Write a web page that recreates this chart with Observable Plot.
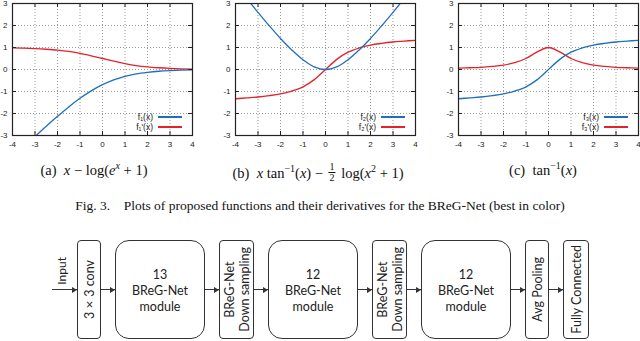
<!DOCTYPE html>
<html><head><meta charset="utf-8">
<script src="https://cdn.jsdelivr.net/npm/d3@7"></script>
<script src="https://cdn.jsdelivr.net/npm/@observablehq/plot@0.6"></script>
<style>
body{margin:0;width:640px;height:341px;overflow:hidden;background:#fff;position:relative;font-family:"Liberation Serif",serif;color:#111;}
.panel{position:absolute;top:0;width:200px;height:152px;}
.legend{position:absolute;right:18px;font:8.5px "Liberation Sans",sans-serif;color:#222;}
.legend .row{display:flex;align-items:center;justify-content:flex-end;height:10px;}
.legend .sw{width:24px;height:0;border-top:2px solid;margin-left:5px;}
.cap{position:absolute;top:162px;font-size:14.5px;text-align:center;white-space:nowrap;}
.cap i{font-style:italic;}
.cap sup{font-size:10px;vertical-align:6px;line-height:0;}
.frac{display:inline-block;vertical-align:-3px;text-align:center;font-size:10px;line-height:10px;margin:0 2px;}
.frac span{display:block;}
.frac span:first-child{border-bottom:0.8px solid #111;padding:0 1px;}
#fig{position:absolute;top:198px;left:0;width:640px;text-align:center;font-size:13.5px;white-space:nowrap;}
#diagram{position:absolute;top:240px;left:52px;height:99px;display:flex;align-items:center;font-family:Lato,sans-serif;font-size:12.5px;color:#222;}
.box{border:1px solid #333;box-sizing:border-box;height:99px;display:flex;align-items:center;justify-content:center;text-align:center;line-height:13px;}
.big{width:90px;border-radius:14px;flex-direction:column;line-height:16px;padding-top:3px;}
.narrow{border-radius:4px;}
.rot{writing-mode:vertical-rl;transform:rotate(180deg);white-space:nowrap;line-height:15px;}
.arrow{position:relative;width:14px;height:0;border-top:1px solid #333;}
.arrow::after{content:"";position:absolute;right:0;top:-3.5px;border-left:5px solid #333;border-top:3px solid transparent;border-bottom:3px solid transparent;}
.input{width:25px;}
.inlabel{position:absolute;left:2px;bottom:5px;writing-mode:vertical-rl;transform:rotate(180deg);font-size:12px;}
</style></head>
<body>
<div id="p0" class="panel" style="left:0"></div>
<div id="p1" class="panel" style="left:223px"></div>
<div id="p2" class="panel" style="left:446px"></div>
<div class="cap" style="left:94px;transform:translateX(-50%)">(a)&nbsp; <i>x</i> − log(<i>e<sup>x</sup></i> + 1)</div>
<div class="cap" style="left:318px;transform:translateX(-50%)">(b)&nbsp; <i>x</i> tan<sup>−1</sup>(<i>x</i>) − <span class="frac"><span>1</span><span>2</span></span> log(<i>x</i><sup>2</sup> + 1)</div>
<div class="cap" style="left:543px;transform:translateX(-50%)">(c)&nbsp; tan<sup>−1</sup>(<i>x</i>)</div>
<div id="fig">Fig. 3.&nbsp;&nbsp;&nbsp; Plots of proposed functions and their derivatives for the BReG-Net (best in color)</div>
<div id="diagram"></div>
<script>
// ---- data ----
const xs = [-4,-3.5,-3,-2.5,-2,-1.5,-1,-0.5,0,0.5,1,1.5,2,2.5,3,3.5,4];
const f1  = [-4.02,-3.53,-3.05,-2.58,-2.13,-1.70,-1.31,-0.97,-0.69,-0.47,-0.31,-0.20,-0.13,-0.08,-0.05,-0.03,-0.02];
const f1d = [0.98,0.97,0.95,0.92,0.88,0.82,0.73,0.62,0.50,0.38,0.27,0.18,0.12,0.08,0.05,0.03,0.02];
const f2  = [3.89,3.23,2.60,1.99,1.41,0.89,0.44,0.12,0,0.12,0.44,0.89,1.41,1.99,2.60,3.23,3.89];
const f2d = [-1.33,-1.29,-1.25,-1.19,-1.11,-0.98,-0.79,-0.46,0,0.46,0.79,0.98,1.11,1.19,1.25,1.29,1.33];
const f3  = [-1.33,-1.29,-1.25,-1.19,-1.11,-0.98,-0.79,-0.46,0,0.46,0.79,0.98,1.11,1.19,1.25,1.29,1.33];
const f3d = [0.06,0.08,0.10,0.14,0.20,0.31,0.50,0.80,1.00,0.80,0.50,0.31,0.20,0.14,0.10,0.08,0.06];
const xTicks = [-4,-3,-2,-1,0,1,2,3,4];
const yTicks = [-3,-2,-1,0,1,2,3];
const legendLabels = [["f₁(x)","f₁'(x)"],["f₂(x)","f₂'(x)"],["f₃(x)","f₃'(x)"]];
const stageLabels = [["3×3 conv"],["13","BReG-Net","module"],["BReG-Net","Down sampling"],["12","BReG-Net","module"],["BReG-Net","Down sampling"],["12","BReG-Net","module"],["Avg Pooling"],["Fully Connected"]];
const inputLabel = "Input";

const BLUE = "#1f6fc1", RED = "#e4222a", INK = "#222";

function panel(fy, fd){
  return Plot.plot({
    width: 200, height: 152, marginLeft: 12, marginRight: 8, marginTop: 3, marginBottom: 17,
    x: {domain: [-4, 4]}, y: {domain: [-3, 3]},
    style: {fontFamily: "Liberation Sans, sans-serif", fontSize: "8px", color: INK, background: "transparent", overflow: "visible"},
    marks: [
      Plot.gridX(xTicks, {stroke: "#999", strokeOpacity: 1, strokeDasharray: "1,2"}),
      Plot.gridY(yTicks, {stroke: "#999", strokeOpacity: 1, strokeDasharray: "1,2"}),
      Plot.line(fd, {x: (d, i) => xs[i], y: d => d, stroke: RED, strokeWidth: 1.3, curve: "catmull-rom", clip: true}),
      Plot.line(fy, {x: (d, i) => xs[i], y: d => d, stroke: BLUE, strokeWidth: 1.3, curve: "catmull-rom", clip: true}),
      Plot.tickX(xTicks, {x: d => d, insetTop: 128, stroke: INK}),
      Plot.tickX(xTicks, {x: d => d, insetBottom: 128, stroke: INK}),
      Plot.tickY(yTicks, {y: d => d, insetRight: 176, stroke: INK}),
      Plot.tickY(yTicks, {y: d => d, insetLeft: 176, stroke: INK}),
      Plot.frame({stroke: INK, strokeWidth: 1.2}),
      Plot.axisX(xTicks, {tickSize: 0, tickPadding: 6, tickFormat: d => String(d)}),
      Plot.axisY(yTicks, {tickSize: 0, tickPadding: 5, tickFormat: d => String(d)})
    ]
  });
}

[[f1, f1d], [f2, f2d], [f3, f3d]].forEach(([a, b], k) => {
  const host = document.getElementById("p" + k);
  host.appendChild(panel(a, b));
  const lg = document.createElement("div");
  lg.className = "legend";
  lg.style.top = "112px";
  legendLabels[k].forEach((t, j) => {
    const r = document.createElement("div");
    r.className = "row";
    r.innerHTML = `<span>${t}</span><span class="sw" style="border-color:${j ? RED : BLUE}"></span>`;
    lg.appendChild(r);
  });
  host.appendChild(lg);
});

// ---- block diagram ----
const dg = document.getElementById("diagram");
const inArrow = document.createElement("div");
inArrow.className = "arrow input";
inArrow.innerHTML = `<span class="inlabel">${inputLabel}</span>`;
dg.appendChild(inArrow);
stageLabels.forEach((lines, i) => {
  if (i > 0) { const a = document.createElement("div"); a.className = "arrow"; dg.appendChild(a); }
  const b = document.createElement("div");
  const isBig = /^\d+$/.test(lines[0]);
  if (isBig) {
    b.className = "box big";
    b.innerHTML = lines.map(l => `<div>${l}</div>`).join("");
  } else {
    b.className = "box narrow";
    b.style.width = (lines.length > 1 ? 35 : (i === stageLabels.length - 1 ? 26 : 24)) + "px";
    b.innerHTML = `<div class="rot">${lines.join("<br>")}</div>`;
  }
  dg.appendChild(b);
});
</script>
</body></html>
